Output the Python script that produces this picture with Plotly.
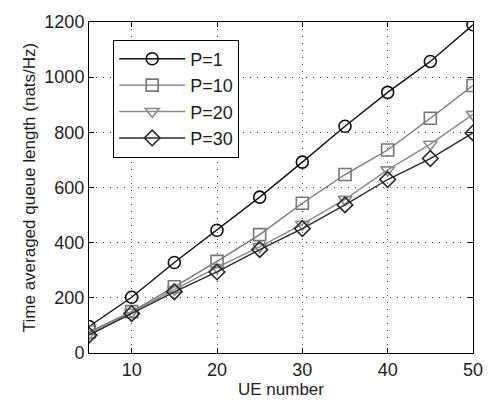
import plotly.graph_objects as go

# UE number on the x axis
ue_number = [5, 10, 15, 20, 25, 30, 35, 40, 45, 50]

# Time averaged queue length (nats/Hz) per number of RRHs P
queue_p1 = [96, 202, 328, 445, 565, 692, 822, 945, 1057, 1190]
queue_p10 = [76, 150, 240, 332, 429, 543, 647, 736, 851, 970]
queue_p20 = [70, 148, 230, 310, 385, 467, 557, 664, 757, 865]
queue_p30 = [65, 143, 222, 294, 375, 451, 537, 629, 705, 798]

series_names = ["P=1", "P=10", "P=20", "P=30"]
x_ticks = [10, 20, 30, 40, 50]
y_ticks = [0, 200, 400, 600, 800, 1000, 1200]

styles = [
    dict(color="#111111", symbol="circle-open"),
    dict(color="#777777", symbol="square-open"),
    dict(color="#8a8a8a", symbol="triangle-down-open"),
    dict(color="#2a2a2a", symbol="diamond-open"),
]

fig = go.Figure()
for name, ys, st in zip(series_names, [queue_p1, queue_p10, queue_p20, queue_p30], styles):
    fig.add_trace(go.Scatter(
        x=ue_number, y=ys, name=name, mode="lines+markers",
        line=dict(color=st["color"], width=1.4),
        marker=dict(symbol=st["symbol"], size=12, color=st["color"],
                    line=dict(color=st["color"], width=1.6)),
    ))

text_color = "#1e1e1e"
axis_common = dict(
    showline=True, linecolor="black", linewidth=1, mirror="ticks",
    ticks="inside", ticklen=5, tickcolor="black",
    showgrid=True, gridcolor="#444444", griddash="1px,6px", gridwidth=1,
    zeroline=False, tickfont=dict(size=18, color=text_color),
)

fig.update_xaxes(range=[5, 50], tickvals=x_ticks,
                 title=dict(text="UE number", font=dict(size=17, color=text_color), standoff=2),
                 **axis_common)
fig.update_yaxes(range=[0, 1200], tickvals=y_ticks,
                 title=dict(text="Time averaged queue length (nats/Hz)",
                            font=dict(size=17, color=text_color), standoff=4),
                 **axis_common)

fig.update_layout(
    width=495, height=405,
    margin=dict(l=89, r=16, t=15, b=51),
    paper_bgcolor="white", plot_bgcolor="white",
    font=dict(family="Liberation Sans, Arial, sans-serif", color=text_color),
    showlegend=True,
    legend=dict(x=0.063, y=0.947, xanchor="left", yanchor="top",
                bordercolor="black", borderwidth=1, bgcolor="white",
                font=dict(size=18, color=text_color),
                tracegroupgap=0, itemwidth=66),
)

fig.write_html("out.html")
